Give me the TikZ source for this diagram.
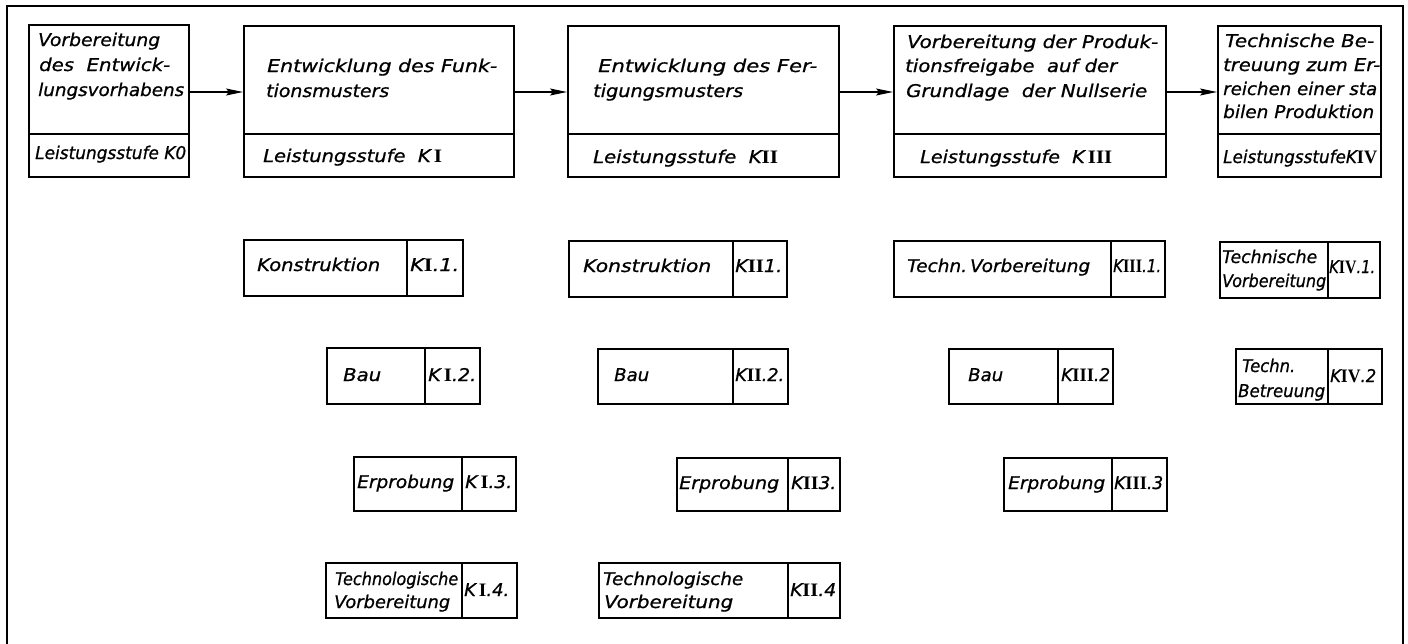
\documentclass[tikz,border=0pt]{standalone}
\usepackage{fontspec}
\usepackage{graphicx}
\usetikzlibrary{arrows.meta}
\newfontfamily\hand{DejaVu Sans}[ItalicFont={DejaVu Sans Oblique},ItalicFeatures={FakeBold=0.8}]
\newfontfamily\romfont{Liberation Serif}
\newcommand\rnum[1]{{\romfont\bfseries\upshape\fontsize{19}{19}\selectfont #1}}
\newcommand\fw[2]{\resizebox{#1pt}{\height}{#2}}
\tikzset{
  box/.style={draw, line width=1.7pt, inner sep=0pt, anchor=north west},
  lbl/.style={anchor=base west, inner sep=0pt, font=\hand\itshape\fontsize{17.5}{26}\selectfont},
  arr/.style={line width=1.4pt, -{Stealth[length=17pt,width=7pt,inset=3pt]}},
  frame/.style={line width=1.6pt},
}
\begin{document}
\begin{tikzpicture}[x=1pt,y=-1pt]
\useasboundingbox (0,0) rectangle (1408,643);
% outer frame
\draw[frame] (7,650) -- (7,6) -- (1403,6) -- (1403,650);
% top boxes
\node[box, minimum width=160, minimum height=152] (k0) at (28,24) {};
\node[box, minimum width=270, minimum height=151] (k1) at (243,25) {};
\node[box, minimum width=271, minimum height=151] (k2) at (567,25) {};
\node[box, minimum width=272, minimum height=151] (k3) at (893,25) {};
\node[box, minimum width=163, minimum height=151] (k4) at (1217,25) {};
\foreach \b in {k0,k1,k2,k3,k4}{
  \draw[line width=1.7pt] (\b.west |- 0,134) -- (\b.east |- 0,134);
}
\coordinate (ay) at (0,92);
\draw[arr] (k0.east |- ay) -- (k1.west |- ay);
\draw[arr] (k1.east |- ay) -- (k2.west |- ay);
\draw[arr] (k2.east |- ay) -- (k3.west |- ay);
\draw[arr] (k3.east |- ay) -- (k4.west |- ay);
% top texts
\node[lbl] (t0a) at (38,46) {\fw{122}{Vorbereitung}};
\node[lbl] (t0b) at (39,71) {\fw{131}{des\ \ Entwick-}};
\node[lbl] (t0c) at (38,96) {\fw{146}{lungsvorhabens}};
\node[lbl] (t0d) at (35,159) {\fw{151}{Leistungsstufe K0}};
\node[lbl] (t1a) at (267,72) {\fw{230}{Entwicklung\ des\ Funk-}};
\node[lbl] (t1b) at (266,97) {\fw{123}{tionsmusters}};
\node[lbl] (t1d) at (263,162) {\fw{179}{Leistungsstufe\ \ K\,\rnum{I}}};
\node[lbl] (t2a) at (598,72) {\fw{219}{Entwicklung\ des\ Fer-}};
\node[lbl] (t2b) at (593,97) {\fw{150}{tigungsmusters}};
\node[lbl] (t2d) at (593,163) {\fw{185}{Leistungsstufe\ \ K\rnum{II}}};
\node[lbl] (t3a) at (907,48) {\fw{251}{Vorbereitung der Produk-}};
\node[lbl] (t3b) at (905,72) {\fw{212}{tionsfreigabe\ \ auf der}};
\node[lbl] (t3c) at (906,97) {\fw{241}{Grundlage\ \ der Nullserie}};
\node[lbl] (t3d) at (920,163) {\fw{192}{Leistungsstufe\ \ K\,\rnum{III}}};
\node[lbl] (t4a) at (1225,47) {\fw{149}{Technische Be-}};
\node[lbl] (t4b) at (1223,71) {\fw{157}{treuung zum Er-}};
\node[lbl] (t4c) at (1223,95) {\fw{154}{reichen einer sta}};
\node[lbl] (t4e) at (1223,118) {\fw{151}{bilen Produktion}};
\node[lbl] (t4d) at (1223,163) {\fw{154}{LeistungsstufeK\rnum{IV}}};
% lower boxes: row 1
\node[box, minimum width=163, minimum height=56] (s11) at (243,239) {};
\node[box, minimum width=56, minimum height=56] (c11) at (406,239) {};
\node[lbl] (s11t) at (257,271) {\fw{123}{Konstruktion}};
\node[lbl] (c11t) at (410,271) {\fw{49}{K\rnum{I}.1.}};
\node[box, minimum width=164, minimum height=56] (s21) at (568,240) {};
\node[box, minimum width=54, minimum height=56] (c21) at (732,240) {};
\node[lbl] (s21t) at (583,272) {\fw{128}{Konstruktion}};
\node[lbl] (c21t) at (735,272) {\fw{47}{K\rnum{II}1.}};
\node[box, minimum width=217, minimum height=56] (s31) at (893,240) {};
\node[box, minimum width=54, minimum height=56] (c31) at (1110,240) {};
\node[lbl] (s31t) at (907,272) {\fw{183}{Techn.\,Vorbereitung}};
\node[lbl] (c31t) at (1113,272) {\fw{48}{K\rnum{III}.1.}};
\node[box, minimum width=108, minimum height=56] (s41) at (1219,241) {};
\node[box, minimum width=52, minimum height=56] (c41) at (1327,241) {};
\node[lbl] (s41a) at (1222,263) {\fw{95}{Technische}};
\node[lbl] (s41b) at (1222,287) {\fw{104}{Vorbereitung}};
\node[lbl] (c41t) at (1329,273) {\fw{46}{K\rnum{IV}.1.}};
% row 2
\node[box, minimum width=98, minimum height=56] (s12) at (326,347) {};
\node[box, minimum width=55, minimum height=56] (c12) at (424,347) {};
\node[lbl] (s12t) at (343,381) {\fw{38}{Bau}};
\node[lbl] (c12t) at (428,381) {\fw{48}{K\,\rnum{I}.2.}};
\node[box, minimum width=135, minimum height=55] (s22) at (597,348) {};
\node[box, minimum width=55, minimum height=55] (c22) at (732,348) {};
\node[lbl] (s22t) at (614,381) {\fw{35}{Bau}};
\node[lbl] (c22t) at (735,381) {\fw{49}{K\rnum{II}.2.}};
\node[box, minimum width=109, minimum height=55] (s32) at (948,348) {};
\node[box, minimum width=55, minimum height=55] (c32) at (1057,348) {};
\node[lbl] (s32t) at (968,381) {\fw{35}{Bau}};
\node[lbl] (c32t) at (1061,381) {\fw{49}{K\rnum{III}.2}};
\node[box, minimum width=92, minimum height=55] (s42) at (1235,348) {};
\node[box, minimum width=54, minimum height=55] (c42) at (1327,348) {};
\node[lbl] (s42a) at (1242,372) {\fw{53}{Techn.}};
\node[lbl] (s42b) at (1238,397) {\fw{87}{Betreuung}};
\node[lbl] (c42t) at (1330,382) {\fw{46}{K\rnum{IV}.2}};
% row 3
\node[box, minimum width=108, minimum height=54] (s13) at (353,456) {};
\node[box, minimum width=54, minimum height=54] (c13) at (461,456) {};
\node[lbl] (s13t) at (357,488) {\fw{97}{Erprobung}};
\node[lbl] (c13t) at (465,488) {\fw{47}{K\,\rnum{I}.3.}};
\node[box, minimum width=111, minimum height=53] (s23) at (676,457) {};
\node[box, minimum width=52, minimum height=53] (c23) at (787,457) {};
\node[lbl] (s23t) at (679,489) {\fw{100}{Erprobung}};
\node[lbl] (c23t) at (791,489) {\fw{45}{K\rnum{II}3.}};
\node[box, minimum width=108, minimum height=53] (s33) at (1003,457) {};
\node[box, minimum width=55, minimum height=53] (c33) at (1111,457) {};
\node[lbl] (s33t) at (1008,489) {\fw{97}{Erprobung}};
\node[lbl] (c33t) at (1114,489) {\fw{49}{K\rnum{III}.3}};
% row 4
\node[box, minimum width=136, minimum height=55] (s14) at (325,562) {};
\node[box, minimum width=55, minimum height=55] (c14) at (461,562) {};
\node[lbl] (s14a) at (335,585) {\fw{123}{Technologische}};
\node[lbl] (s14b) at (334,608) {\fw{116}{Vorbereitung}};
\node[lbl] (c14t) at (464,596) {\fw{45}{K\,\rnum{I}.4.}};
\node[box, minimum width=189, minimum height=55] (s24) at (598,562) {};
\node[box, minimum width=52, minimum height=55] (c24) at (787,562) {};
\node[lbl] (s24a) at (603,585) {\fw{140}{Technologische}};
\node[lbl] (s24b) at (604,608) {\fw{129}{Vorbereitung}};
\node[lbl] (c24t) at (790,596) {\fw{46}{K\rnum{II}.4}};
\end{tikzpicture}
\end{document}
